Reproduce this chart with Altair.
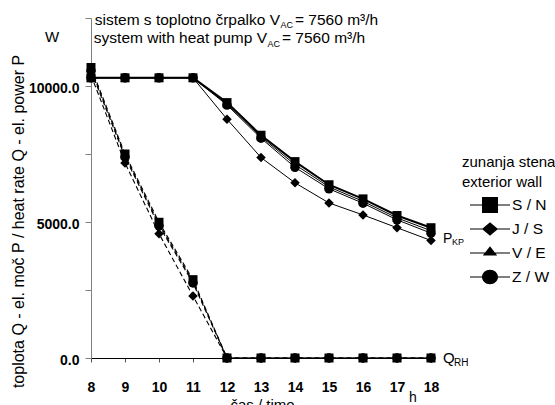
import altair as alt
import pandas as pd

FONT = "Liberation Sans"

hours = [8, 9, 10, 11, 12, 13, 14, 15, 16, 17, 18]
walls = ["S / N", "J / S", "V / E", "Z / W"]
draw_order = ["J / S", "Z / W", "V / E", "S / N"]

# electric power of heat pump P_KP (W)
p_sn = [10300, 10300, 10300, 10300, 9390, 8190, 7220, 6370, 5850, 5240, 4790]
p_js = [10300, 10300, 10300, 10300, 8780, 7370, 6440, 5700, 5260, 4790, 4320]
p_ve = [10300, 10300, 10300, 10300, 9340, 8130, 7110, 6290, 5760, 5150, 4680]
p_zw = [10300, 10300, 10300, 10300, 9300, 8080, 7010, 6220, 5690, 5080, 4590]

# heat rate Q_RH (W)
q_sn = [10680, 7500, 4990, 2880, 0, 0, 0, 0, 0, 0, 0]
q_js = [10400, 7170, 4570, 2280, 0, 0, 0, 0, 0, 0, 0]
q_ve = [10620, 7440, 4920, 2820, 0, 0, 0, 0, 0, 0, 0]
q_zw = [10560, 7390, 4860, 2760, 0, 0, 0, 0, 0, 0, 0]

y_ticks = [0, 2500, 5000, 7500, 10000, 12500]

series = {
    ("P", "S / N"): p_sn, ("P", "J / S"): p_js, ("P", "V / E"): p_ve, ("P", "Z / W"): p_zw,
    ("Q", "S / N"): q_sn, ("Q", "J / S"): q_js, ("Q", "V / E"): q_ve, ("Q", "Z / W"): q_zw,
}
marker_size = {"S / N": 81, "J / S": 90, "V / E": 80, "Z / W": 90}

rows = []
for kind in ["P", "Q"]:
    for w in draw_order:
        for h, v in zip(hours, series[(kind, w)]):
            rows.append(dict(hour=h, value=v, wall=w, kind=kind, series=kind + w,
                             lw=2.0 if (kind == "P" and w == "S / N") else 1.0,
                             ms=marker_size[w]))
df = pd.DataFrame(rows)

x_scale = alt.Scale(domain=[8, 18], nice=False, zero=False)
y_scale = alt.Scale(domain=[0, 12500], nice=False)

x_axis = alt.Axis(
    values=hours, format="d", title="čas / time", grid=False,
    domainColor="black", tickColor="#555555", tickSize=4,
    labelFont=FONT, labelFontSize=14, labelFontWeight="bold", labelColor="black",
    labelPadding=18, labelFlush=False,
    titleFont=FONT, titleFontSize=15, titleFontWeight="normal", titleColor="black",
    titleX=171, titleY=51, titleAlign="center", titleBaseline="alphabetic",
)
y_axis = alt.Axis(
    values=y_ticks, grid=False,
    labelExpr="datum.value % 5000 == 0 ? format(datum.value, '.1f') : ''",
    title="toplota Q - el. moč P / heat rate Q - el. power P",
    domainColor="#808080", tickColor="#808080", tickSize=6,
    labelFont=FONT, labelFontSize=14, labelFontWeight="bold", labelColor="black",
    labelPadding=6, labelOffset=2, labelFlush=False,
    titleFont=FONT, titleFontSize=16, titleFontWeight="normal", titleColor="black",
    titleAngle=270, titleX=-68, titleY=203, titleAlign="center", titleBaseline="alphabetic",
)

X = alt.X("hour:Q", scale=x_scale, axis=x_axis)
Y = alt.Y("value:Q", scale=y_scale, axis=y_axis)

base = alt.Chart(df).encode(x=X, y=Y)

p_lines = base.transform_filter(alt.datum.kind == "P").mark_line(color="black").encode(
    detail="series:N", strokeWidth=alt.StrokeWidth("lw:Q", scale=None)
)
q_lines = base.transform_filter(alt.datum.kind == "Q").mark_line(
    color="black", strokeDash=[5, 3], strokeWidth=1.1
).encode(detail="series:N")

points = base.mark_point(filled=True, color="black", opacity=1).encode(
    shape=alt.Shape("wall:N", scale=alt.Scale(domain=walls,
                    range=["square", "diamond", "triangle-up", "circle"]), legend=None),
    size=alt.Size("ms:Q", scale=None),
)

legend_paths = [
    "M-2.5,-0.07H2.5V0.07H-2.5Z M-1,-1H1V1H-1Z",
    "M-2.5,-0.07H2.5V0.07H-2.5Z M0,-0.85L1,0L0,0.85L-1,0Z",
    "M-2.5,-0.07H2.5V0.07H-2.5Z M0,-0.85L0.9,0.3H-0.9Z",
    "M-2.5,-0.07H2.5V0.07H-2.5Z M-1,0A1,0.9,0,1,1,1,0A1,0.9,0,1,1,-1,0Z",
]
legend_layer = base.transform_filter("false").mark_point(filled=True, color="black").encode(
    shape=alt.Shape("wall:N", scale=alt.Scale(domain=walls, range=legend_paths),
                    legend=alt.Legend(
                        orient="none", legendX=391, legendY=179, title=None,
                        labelFont=FONT, labelFontSize=15.5, labelColor="black",
                        symbolSize=256, symbolStrokeWidth=0, symbolFillColor="black",
                        symbolOpacity=1, labelOffset=14, rowPadding=7, padding=0,
                    ))
)


def txt(s, x, y, size, align="left", **kw):
    return alt.Chart(pd.DataFrame({"t": [s]})).mark_text(
        align=align, baseline="alphabetic", font=FONT, fontSize=size, color="black", **kw
    ).encode(x=alt.value(x), y=alt.value(y), text="t:N")


def dtxt(s, hx, vy, size, dx, dy):
    return alt.Chart(pd.DataFrame({"t": [s], "hour": [hx], "value": [vy]})).mark_text(
        align="left", baseline="alphabetic", font=FONT, fontSize=size, color="black",
        dx=dx, dy=dy
    ).encode(x=X, y=Y, text="t:N")


texts = [
    txt("sistem s toplotno črpalko V", 189, 7, 15.5, align="right"),
    txt("AC", 189.5, 10, 9),
    txt("= 7560 m³/h", 204, 7, 15.5),
    txt("system with heat pump V", 176, 25, 15.5, align="right"),
    txt("AC", 176.5, 29, 9),
    txt("= 7560 m³/h", 191, 25, 15.5),
    txt("W", -46, 24, 15),
    txt("h", 318, 384, 14),
    txt("zunanja stena", 371, 149, 15),
    txt("exterior wall", 371, 169, 15),
    dtxt("P", 18, 4230, 14, 12, 0),
    dtxt("KP", 18, 4230, 9, 21, 2),
    dtxt("Q", 18, 0, 15, 12, 5),
    dtxt("RH", 18, 0, 10, 23, 8),
]

chart = alt.layer(q_lines, p_lines, points, legend_layer, *texts).resolve_scale(
    shape="independent"
).properties(
    width=340, height=340,
    padding={"left": 91, "top": 18, "right": 124, "bottom": 47},
    autosize=alt.AutoSizeParams(type="none"),
    background="white",
).configure_view(stroke=None)

chart.save("out.html", embed_options={"renderer": "svg", "actions": False})
